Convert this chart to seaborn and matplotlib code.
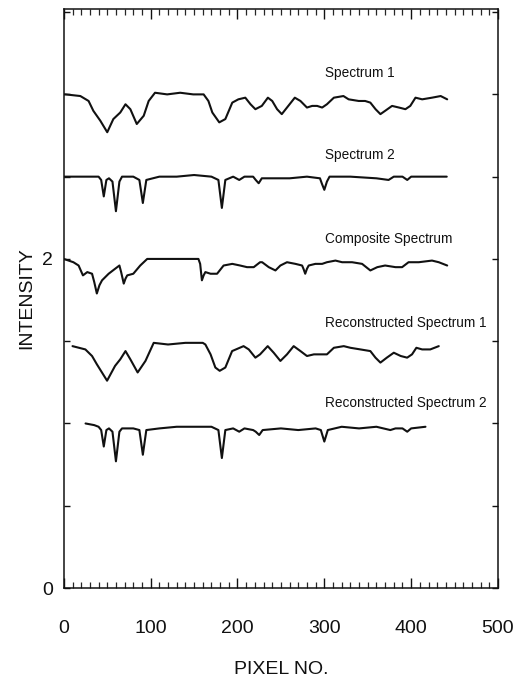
import numpy as np
import pandas as pd
import matplotlib
matplotlib.use("Agg")
import matplotlib.pyplot as plt
from matplotlib.ticker import MultipleLocator, FixedLocator
import seaborn as sns

# ---- data ----
spec1_x = [0, 2, 19, 28.5, 34, 42, 50, 57, 65, 71, 76.6, 84, 92, 97.7, 105, 119, 134, 149, 161, 166.5,
           171, 179, 186, 194, 201, 209, 215, 220.6, 228, 235, 240, 245.6, 251, 257, 266, 272.5, 280, 286, 291.7, 297.5,
           303, 311, 322, 328, 339.6, 347, 353, 359, 364.6, 370, 378, 386, 393.4, 399, 405, 412.7, 424, 434, 441.5]
spec1_y = [3.0, 3.0, 2.99, 2.96, 2.90, 2.84, 2.77, 2.85, 2.89, 2.94, 2.91, 2.82, 2.87, 2.96, 3.01, 3.00, 3.01, 3.00, 3.00, 2.96,
           2.89, 2.83, 2.85, 2.95, 2.97, 2.98, 2.94, 2.91, 2.93, 2.98, 2.96, 2.91, 2.88, 2.92, 2.98, 2.96, 2.92, 2.93, 2.93, 2.92,
           2.94, 2.98, 2.99, 2.97, 2.96, 2.96, 2.95, 2.91, 2.88, 2.90, 2.93, 2.92, 2.91, 2.93, 2.98, 2.97, 2.98, 2.99, 2.97]

spec2_x = [0, 20, 40, 43, 46, 49, 52, 56, 60, 64, 67, 80, 87, 91, 95, 110, 130, 150, 170, 178,
           182, 186, 195, 202, 208, 218, 221, 224.4, 228, 250, 260, 280, 295, 297, 300, 303, 306, 330, 360, 374,
           380, 390, 395.5, 400, 420, 441]
spec2_y = [2.50, 2.50, 2.50, 2.48, 2.38, 2.48, 2.49, 2.47, 2.29, 2.47, 2.50, 2.50, 2.48, 2.34, 2.48, 2.50, 2.50, 2.51, 2.50, 2.48,
           2.31, 2.48, 2.50, 2.48, 2.50, 2.50, 2.48, 2.46, 2.49, 2.49, 2.49, 2.50, 2.49, 2.46, 2.42, 2.47, 2.50, 2.50, 2.49, 2.48,
           2.50, 2.50, 2.48, 2.50, 2.50, 2.50]

comp_x = [0, 11, 17, 22, 27, 32.5, 35, 38, 41, 44, 51.6, 59, 64, 66, 69, 71, 73, 80, 88, 96,
          120, 150, 155, 157, 159, 161, 163, 169, 176.5, 184, 194, 203, 211, 218.7, 226, 228.4, 236, 243.7, 249.4, 257,
          266.7, 274.4, 276, 278, 280, 282, 289.7, 297.5, 303, 312.8, 320.5, 332, 343.5, 353, 361, 370, 382, 389.6, 397, 408.8,
          424, 431.8, 441.5]
comp_y = [2.00, 1.98, 1.96, 1.90, 1.92, 1.91, 1.86, 1.79, 1.84, 1.87, 1.91, 1.94, 1.96, 1.92, 1.85, 1.88, 1.90, 1.91, 1.96, 2.00,
          2.00, 2.00, 2.00, 1.97, 1.87, 1.90, 1.92, 1.91, 1.91, 1.96, 1.97, 1.96, 1.95, 1.95, 1.98, 1.98, 1.95, 1.93, 1.96, 1.98,
          1.97, 1.96, 1.94, 1.91, 1.94, 1.96, 1.97, 1.97, 1.98, 1.99, 1.98, 1.98, 1.97, 1.93, 1.95, 1.96, 1.95, 1.95, 1.98, 1.98,
          1.99, 1.98, 1.96]

rec1_x = [10, 24.8, 32.5, 38, 49.8, 59, 65, 71, 76.6, 85, 94, 103.5, 120, 140, 160, 163, 169, 174.5, 179.5, 186,
          193.8, 207, 213, 220.6, 226, 234.8, 241.7, 249.4, 257, 264.7, 272.5, 280, 288, 295.5, 303, 311, 322.4, 330, 341.6, 353,
          358.9, 364.6, 372, 380, 388, 395.4, 401, 406, 412.7, 422, 431.8]
rec1_y = [1.47, 1.45, 1.41, 1.36, 1.26, 1.35, 1.39, 1.44, 1.39, 1.31, 1.38, 1.49, 1.48, 1.49, 1.49, 1.48, 1.42, 1.34, 1.32, 1.34,
          1.44, 1.47, 1.45, 1.40, 1.42, 1.47, 1.43, 1.38, 1.42, 1.47, 1.44, 1.41, 1.42, 1.42, 1.42, 1.46, 1.47, 1.46, 1.45, 1.44,
          1.40, 1.37, 1.40, 1.43, 1.41, 1.40, 1.42, 1.46, 1.45, 1.45, 1.47]

rec2_x = [25, 35, 40, 43, 46, 49, 52, 56, 60, 64, 67, 80, 87, 91, 95, 110, 130, 150, 170, 178,
          182, 186, 195, 202, 208, 218, 221, 225, 229, 250, 270, 290, 296, 300, 304, 320, 340, 360, 376, 382,
          390, 395.5, 400, 416.5]
rec2_y = [1.00, 0.99, 0.98, 0.96, 0.86, 0.96, 0.97, 0.95, 0.77, 0.95, 0.97, 0.97, 0.96, 0.81, 0.96, 0.97, 0.98, 0.98, 0.98, 0.96,
          0.79, 0.96, 0.97, 0.95, 0.97, 0.96, 0.95, 0.93, 0.96, 0.97, 0.96, 0.97, 0.96, 0.89, 0.96, 0.98, 0.97, 0.98, 0.96, 0.97,
          0.97, 0.95, 0.97, 0.98]

labels = ["Spectrum 1", "Spectrum 2", "Composite Spectrum", "Reconstructed Spectrum 1", "Reconstructed Spectrum 2"]
label_y = [3.13, 2.63, 2.12, 1.61, 1.125]
x_ticklabels = ["0", "100", "200", "300", "400", "500"]
y_ticklabels = ["0", "", "", "", "2", "", "", ""]

series = [(spec1_x, spec1_y), (spec2_x, spec2_y), (comp_x, comp_y), (rec1_x, rec1_y), (rec2_x, rec2_y)]

# ---- plotting ----
sns.set_theme(style="ticks")
plt.rcParams['font.family'] = ['Liberation Sans', 'DejaVu Sans']

fig = plt.figure(figsize=(5.19, 6.79), dpi=100)
ax = fig.add_axes([0.123, 0.134, 0.8365, 0.853])

for (xs, ys), name in zip(series, labels):
    df = pd.DataFrame({"x": xs, "y": ys})
    sns.lineplot(data=df, x="x", y="y", ax=ax, color="#111111", linewidth=1.5,
                 estimator=None, sort=False)

for name, ly in zip(labels, label_y):
    ax.text(301, ly, name, fontsize=9.8, color="#111111", ha="left", va="center")

ax.set_xlim(0, 500)
ax.set_ylim(0, 3.52)
ax.set_xticks([0, 100, 200, 300, 400, 500])
ax.set_xticklabels(x_ticklabels)
ax.xaxis.set_minor_locator(MultipleLocator(10))
ax.set_yticks([0, 0.5, 1.0, 1.5, 2.0, 2.5, 3.0, 3.5])
ax.set_yticklabels(y_ticklabels)

ax.tick_params(axis="x", which="major", direction="in", length=7, width=1.0,
               top=True, bottom=True, labelsize=14, pad=23, colors="#111111")
ax.tick_params(axis="x", which="minor", direction="in", length=4, width=0.9,
               top=True, bottom=True)
ax.tick_params(axis="y", which="major", direction="in", length=4, width=1.0,
               left=True, right=True, labelsize=14, pad=8, colors="#111111")

for s in ax.spines.values():
    s.set_visible(True)
    s.set_linewidth(1.1)
    s.set_color("#111111")

ax.set_xlabel("PIXEL NO.", fontsize=14, labelpad=17, color="#111111")
ax.set_ylabel("INTENSITY", fontsize=14, labelpad=5, color="#111111")

fig.savefig("out.png", dpi=100, facecolor="white")
